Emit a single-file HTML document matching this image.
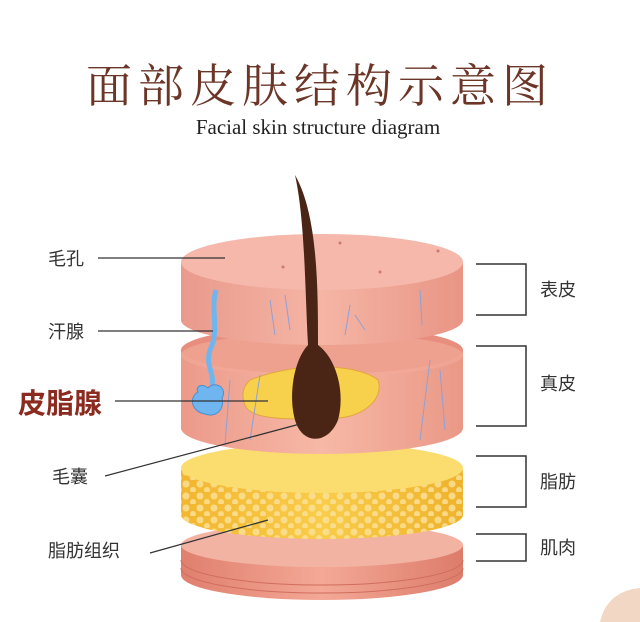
<!DOCTYPE html>
<html><head><meta charset="utf-8"><style>
body{margin:0;background:#fff;width:640px;height:622px;overflow:hidden}
svg{display:block}
</style></head><body>
<svg width="640" height="622" viewBox="0 0 640 622" xmlns="http://www.w3.org/2000/svg">
<defs>
<linearGradient id="sk" x1="0" x2="1"><stop offset="0" stop-color="#e99a8c"/><stop offset="0.5" stop-color="#f5b5a5"/><stop offset="1" stop-color="#e99585"/></linearGradient>
<linearGradient id="dm" x1="0" x2="1"><stop offset="0" stop-color="#ec9a8a"/><stop offset="0.5" stop-color="#f7b8a6"/><stop offset="1" stop-color="#ea9886"/></linearGradient>
<linearGradient id="ft" x1="0" x2="1"><stop offset="0" stop-color="#f2b630"/><stop offset="0.5" stop-color="#f9cc4a"/><stop offset="1" stop-color="#efb22c"/></linearGradient>
<linearGradient id="ms" x1="0" x2="1"><stop offset="0" stop-color="#e07f6e"/><stop offset="0.5" stop-color="#f4a896"/><stop offset="1" stop-color="#dd7c6b"/></linearGradient>
<pattern id="dots" width="14" height="12" patternUnits="userSpaceOnUse"><circle cx="4" cy="4" r="3.5" fill="#fbe29a"/><circle cx="11" cy="10" r="3" fill="#fbe29a"/></pattern>
</defs>
<text x="320" y="102" text-anchor="middle" font-family="Liberation Serif, 'Noto Serif CJK SC', serif" font-size="46" fill="#6b3527" letter-spacing="6">面部皮肤结构示意图</text>
<text x="318" y="134" text-anchor="middle" font-family="Liberation Serif, serif" font-size="21" fill="#222">Facial skin structure diagram</text>

<path d="M181 545 L181 575 A141 25 0 0 0 463 575 L463 545 Z" fill="url(#ms)"/>
<path d="M181 560 A141 25 0 0 0 463 560 M181 568 A141 25 0 0 0 463 568" stroke="#d06e5e" fill="none"/>
<ellipse cx="322" cy="545" rx="141" ry="22" fill="#f3b3a3"/>
<path d="M181 470 L181 515 A141 24 0 0 0 463 515 L463 470 Z" fill="url(#ft)"/>
<path d="M181 470 L181 515 A141 24 0 0 0 463 515 L463 470 Z" fill="url(#dots)" opacity="0.8"/>
<ellipse cx="322" cy="468" rx="141" ry="25" fill="#fbdc6e"/>
<path d="M181 350 L181 428 A141 26 0 0 0 463 428 L463 350 Z" fill="url(#dm)"/>
<ellipse cx="322" cy="350" rx="141" ry="24" fill="#e88e7e"/>
<ellipse cx="322" cy="355" rx="141" ry="22" fill="#f2a999" opacity="0.7"/>
<path d="M250 380 C300 360 360 365 378 380 C385 400 360 420 330 418 C290 420 250 420 245 405 C240 392 245 385 250 380Z" fill="#f8d14c" stroke="#e0a640"/>
<path d="M230 380 L225 445 M260 375 L250 440 M430 360 L420 440 M440 370 L445 430" stroke="#8fa0d8" fill="none"/>
<path d="M181 263 L181 320 A141 25 0 0 0 463 320 L463 263 Z" fill="url(#sk)"/>
<ellipse cx="322" cy="262" rx="141" ry="28" fill="#f5b8aa"/>
<path d="M270 300 L275 335 M285 295 L290 330 M350 305 L345 335 M355 315 L365 330 M420 290 L422 325" stroke="#8fa0d8" fill="none"/>
<circle cx="340" cy="243" r="1.5" fill="#c77"/><circle cx="380" cy="272" r="1.5" fill="#c77"/><circle cx="438" cy="251" r="1.5" fill="#c77"/><circle cx="283" cy="267" r="1.5" fill="#c77"/>
<path d="M216 290 C210 310 220 330 210 350 C205 365 215 375 212 385" stroke="#6fb6f0" stroke-width="5" fill="none"/>
<path d="M198 392 C188 398 192 412 205 414 C215 418 225 410 222 398 C228 388 215 380 208 388 C200 382 195 388 198 392Z" fill="#6fb6f0" stroke="#4a8fd0"/>
<path d="M295 175 C318 215 318 290 318 345 C338 360 345 395 338 420 C328 445 302 445 295 420 C288 395 294 360 308 345 C305 290 305 220 295 175Z" fill="#4a2414"/>
<g stroke="#333" stroke-width="1.3">
<line x1="98" y1="258" x2="225" y2="258"/>
<line x1="98" y1="331" x2="213" y2="331"/>
<line x1="115" y1="401" x2="268" y2="401"/>
<line x1="105" y1="476" x2="300" y2="424"/>
<line x1="150" y1="553" x2="268" y2="520"/>
</g>
<g font-family="Liberation Sans, 'Noto Sans CJK SC', sans-serif" fill="#333" font-size="18">
<text x="48" y="265">毛孔</text>
<text x="48" y="338">汗腺</text>
<text x="18" y="413" font-size="28" font-weight="bold" fill="#8b2a1f">皮脂腺</text>
<text x="52" y="483">毛囊</text>
<text x="48" y="557">脂肪组织</text>
<text x="540" y="296">表皮</text>
<text x="540" y="390">真皮</text>
<text x="540" y="488">脂肪</text>
<text x="540" y="554">肌肉</text>
</g>
<g stroke="#333" stroke-width="1.5" fill="none">
<path d="M476 264 H526 V315 H476"/>
<path d="M476 346 H526 V426 H476"/>
<path d="M476 456 H526 V507 H476"/>
<path d="M476 534 H526 V561 H476"/>
</g>
<path d="M600 622 C605 600 620 590 640 588 L640 622Z" fill="#f1d7c4"/>
</svg>
</body></html>
